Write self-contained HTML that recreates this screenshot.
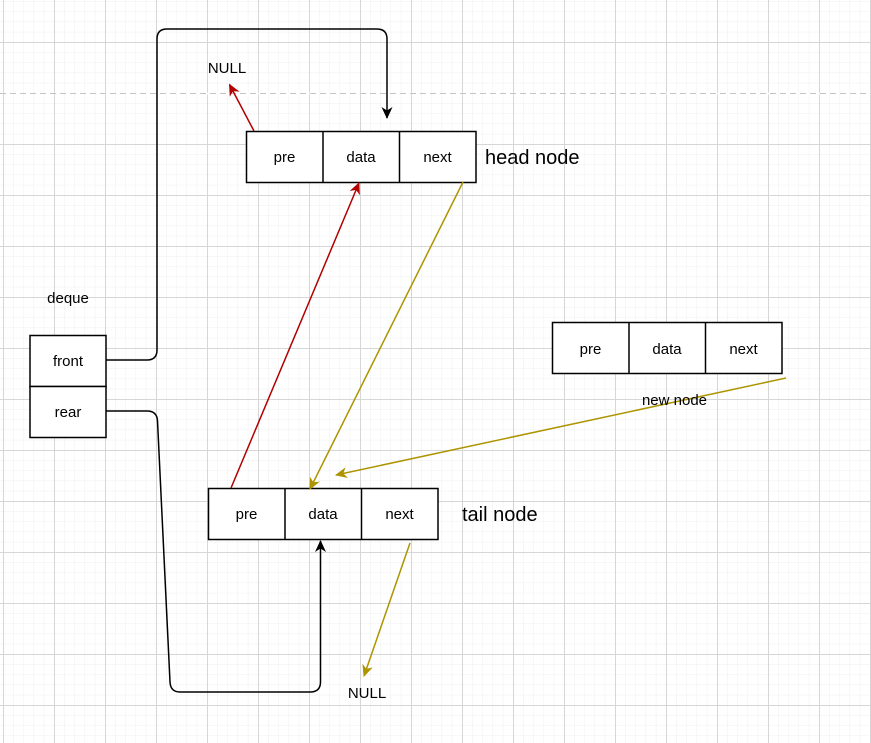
<!DOCTYPE html>
<html><head><meta charset="utf-8"><style>
html,body{margin:0;padding:0;background:#fff;}
svg{display:block;}
text{font-family:"Liberation Sans",sans-serif;fill:#000;}
</style></head><body>
<svg width="871" height="743" viewBox="0 0 871 743" xmlns="http://www.w3.org/2000/svg">
<defs>
<pattern id="minor" x="3" y="42" width="10.2" height="10.2" patternUnits="userSpaceOnUse">
<path d="M0 0V10.2M0 0H10.2" stroke="#efefef" stroke-width="1" fill="none"/>
</pattern>
<pattern id="major" x="3" y="42" width="51" height="51" patternUnits="userSpaceOnUse">
<path d="M0.5 0V51M0 0.5H51" stroke="#d6d6d6" stroke-width="1" fill="none"/>
</pattern>
<marker id="ab" markerWidth="12" markerHeight="12" refX="11" refY="6" orient="auto" markerUnits="userSpaceOnUse"><path d="M0 0.5L12 6L0 11.5L3.5 6Z" fill="#000"/></marker>
<marker id="ar" markerWidth="12" markerHeight="12" refX="11" refY="6" orient="auto" markerUnits="userSpaceOnUse"><path d="M0 0.5L12 6L0 11.5L3.5 6Z" fill="#b20000"/></marker>
<marker id="ao" markerWidth="12" markerHeight="12" refX="11" refY="6" orient="auto" markerUnits="userSpaceOnUse"><path d="M0 0.5L12 6L0 11.5L3.5 6Z" fill="#ad9400"/></marker>
</defs>
<rect width="871" height="743" fill="url(#minor)"/>
<rect width="871" height="743" fill="url(#major)"/>
<line x1="0" y1="93.5" x2="871" y2="93.5" stroke="#fff" stroke-width="1.5"/>
<line x1="0" y1="93.5" x2="871" y2="93.5" stroke="#c4c4c4" stroke-dasharray="6,4"/>

<path d="M106 360H147Q157 360 157 350V39Q157 29 167 29H377Q387 29 387 39V118" fill="none" stroke="#000" stroke-width="1.5" marker-end="url(#ab)"/>
<path d="M106 411H147Q157 411 157.5 421L170 682Q170.5 692 180 692H310Q320.5 692 320.5 682V541" fill="none" stroke="#000" stroke-width="1.5" marker-end="url(#ab)"/>

<g fill="#fff" stroke="#000" stroke-width="1.5">
<rect x="246.5" y="131.5" width="229.5" height="51"/>
<line x1="323" y1="131.5" x2="323" y2="182.5"/><line x1="399.5" y1="131.5" x2="399.5" y2="182.5"/>
<rect x="552.5" y="322.5" width="229.5" height="51"/>
<line x1="629" y1="322.5" x2="629" y2="373.5"/><line x1="705.5" y1="322.5" x2="705.5" y2="373.5"/>
<rect x="208.5" y="488.5" width="229.5" height="51"/>
<line x1="285" y1="488.5" x2="285" y2="539.5"/><line x1="361.5" y1="488.5" x2="361.5" y2="539.5"/>
<rect x="30" y="335.5" width="76" height="51"/>
<rect x="30" y="386.5" width="76" height="51"/>
</g>

<line x1="231" y1="488" x2="359" y2="183" stroke="#b20000" stroke-width="1.5" marker-end="url(#ar)"/>
<line x1="254" y1="131" x2="229.5" y2="84.5" stroke="#b20000" stroke-width="1.5" marker-end="url(#ar)"/>
<line x1="463" y1="182" x2="310" y2="489" stroke="#ad9400" stroke-width="1.5" marker-end="url(#ao)"/>
<line x1="786" y1="378" x2="336" y2="475" stroke="#ad9400" stroke-width="1.5" marker-end="url(#ao)"/>
<line x1="410" y1="543" x2="364" y2="676" stroke="#ad9400" stroke-width="1.5" marker-end="url(#ao)"/>

<g font-size="15" text-anchor="middle">
<text x="284.5" y="162">pre</text><text x="361" y="162">data</text><text x="437.5" y="162">next</text>
<text x="590.5" y="354">pre</text><text x="667" y="354">data</text><text x="743.5" y="354">next</text>
<text x="246.5" y="519">pre</text><text x="323" y="519">data</text><text x="399.5" y="519">next</text>
<text x="68" y="366">front</text><text x="68" y="417">rear</text>
<text x="68" y="303">deque</text>
<text x="227" y="73">NULL</text>
<text x="367" y="698">NULL</text>
<text x="674.5" y="405">new node</text>
</g>
<g font-size="20">
<text x="485" y="164">head node</text>
<text x="462" y="521">tail node</text>
</g>
</svg>
</body></html>
